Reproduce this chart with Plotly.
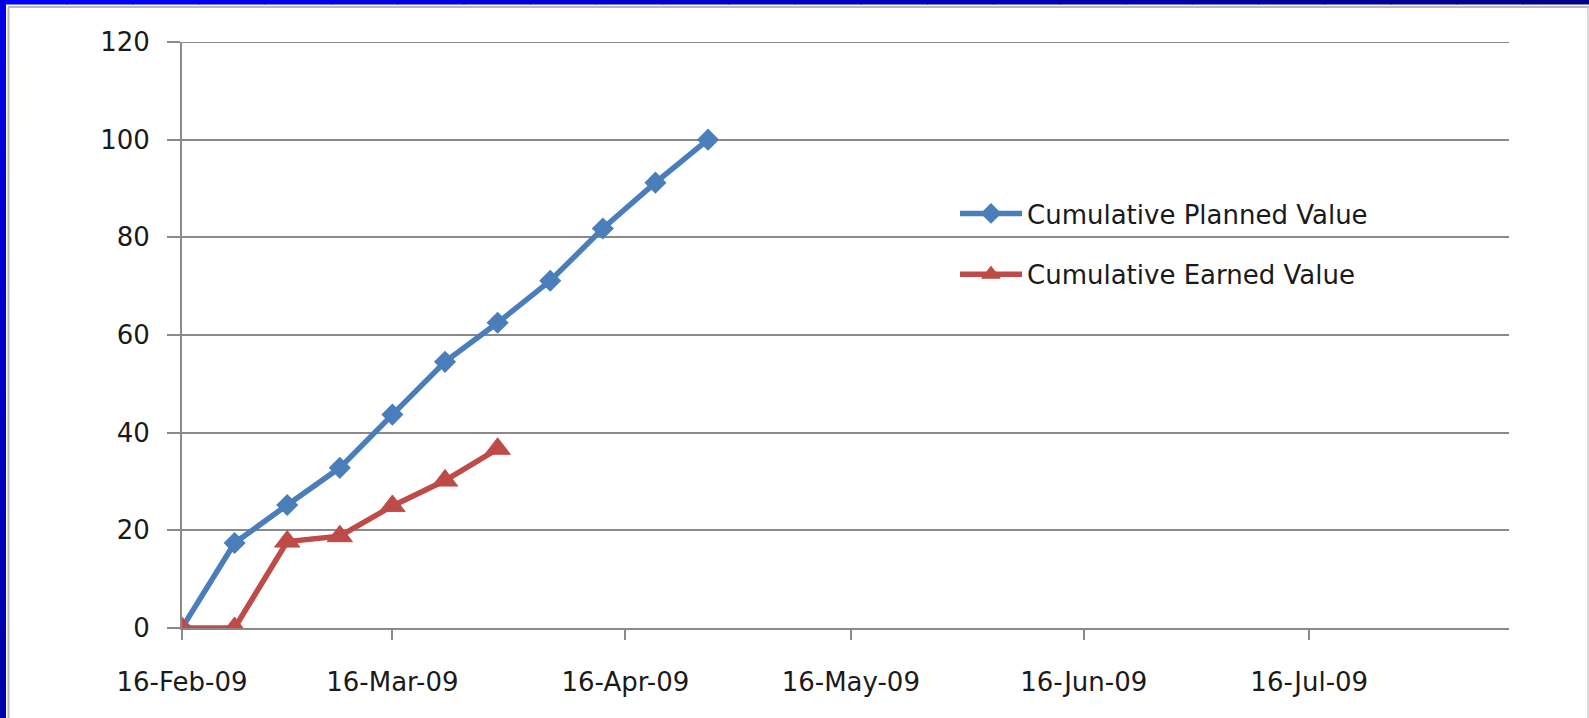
import plotly.graph_objects as go

# ---- data ----
planned_dates = ["2009-02-16", "2009-02-23", "2009-03-02", "2009-03-09", "2009-03-16",
                 "2009-03-23", "2009-03-30", "2009-04-06", "2009-04-13", "2009-04-20",
                 "2009-04-27"]
planned_values = [0, 17.4, 25.2, 32.8, 43.7, 54.5, 62.5, 71.1, 81.8, 91.2, 100]

earned_dates = ["2009-02-16", "2009-02-23", "2009-03-02", "2009-03-09", "2009-03-16",
                "2009-03-23", "2009-03-30"]
earned_values = [0, 0, 17.7, 18.8, 25.0, 30.2, 36.7]

x_tick_vals = ["2009-02-16", "2009-03-16", "2009-04-16", "2009-05-16", "2009-06-16", "2009-07-16"]
y_tick_vals = [0, 20, 40, 60, 80, 100, 120]

# ---- layout geometry (pixels) ----
W, H = 1589, 718
L, R, T, B = 182, 80, 42, 90
PW, PH = W - L - R, H - T - B


def px(x):
    return (x - L) / PW


def py(y):
    return (H - B - y) / PH


FONT = "DejaVu Sans"
GRID = "#8a8a8a"
TXT = "#1a1a1a"
FS = 26

fig = go.Figure()
fig.add_trace(go.Scatter(
    x=planned_dates, y=planned_values, name="Cumulative Planned Value",
    mode="lines+markers", legendgroup="a",
    line=dict(color="#4a7ebb", width=5.5),
    marker=dict(symbol="diamond", size=17, color="#4a7ebb"),
))
fig.add_trace(go.Scatter(
    x=earned_dates, y=earned_values, name="Cumulative Earned Value",
    mode="lines+markers", legendgroup="b",
    line=dict(color="#be4b48", width=5.5),
    marker=dict(symbol="triangle-up", size=22, color="#be4b48",
                line=dict(color="#be4b48", width=1)),
))

shapes = []
# top gridline at 120 (plotly omits the gridline at the range edge)
shapes.append(dict(type="line", xref="paper", yref="y", x0=px(168), x1=1,
                   y0=120, y1=120, line=dict(color=GRID, width=2)))
# decorative window frame: top gradient bar, left bar, thin gray borders
n = 24
c0, c1 = (0, 0, 255), (0, 0, 144)
for i in range(n):
    t = i / (n - 1)
    col = "rgb(%d,%d,%d)" % tuple(round(a + (b - a) * t) for a, b in zip(c0, c1))
    shapes.append(dict(type="rect", xref="paper", yref="paper", layer="above",
                       x0=px(i * W / n), x1=px((i + 1) * W / n + 1),
                       y0=py(0), y1=py(4.5), line=dict(width=0), fillcolor=col))
for i in range(n):
    t = i / (n - 1)
    col = "rgb(%d,%d,%d)" % tuple(round(a + (b - a) * t) for a, b in zip((0, 0, 230), (0, 0, 170)))
    shapes.append(dict(type="rect", xref="paper", yref="paper", layer="above",
                       x0=px(0), x1=px(6),
                       y0=py(i * H / n), y1=py((i + 1) * H / n + 1),
                       line=dict(width=0), fillcolor=col))
shapes.append(dict(type="line", xref="paper", yref="paper", x0=px(8.5), x1=px(8.5),
                   y0=py(7), y1=py(H), line=dict(color="#b8b8b8", width=2)))
shapes.append(dict(type="line", xref="paper", yref="paper", x0=px(8), x1=px(W),
                   y0=py(7), y1=py(7), line=dict(color="#b8b8b8", width=2)))
shapes.append(dict(type="line", xref="paper", yref="paper", x0=px(1588), x1=px(1588),
                   y0=py(7), y1=py(H), line=dict(color="#d0d0d0", width=1.5)))

fig.update_layout(
    width=W, height=H,
    margin=dict(l=L, r=R, t=T, b=B, autoexpand=False),
    paper_bgcolor="white", plot_bgcolor="white",
    font=dict(family=FONT, size=FS, color=TXT),
    showlegend=True,
    legend=dict(x=px(955), y=py(190), xanchor="left", yanchor="top",
                bgcolor="rgba(0,0,0,0)", tracegroupgap=24, itemwidth=62,
                font=dict(family=FONT, size=FS, color=TXT)),
    shapes=shapes,
    xaxis=dict(
        type="date", range=["2009-02-16", "2009-08-11 14:00"],
        tickvals=x_tick_vals, tickformat="%d-%b-%y",
        showgrid=False, zeroline=False,
        showline=True, linecolor=GRID, linewidth=2,
        ticks="outside", ticklen=10, tickwidth=2, tickcolor=GRID,
        ticklabelstandoff=20,
        tickfont=dict(family=FONT, size=FS, color=TXT),
    ),
    yaxis=dict(
        range=[0, 120], tickvals=y_tick_vals,
        showgrid=True, gridcolor=GRID, gridwidth=2,
        zeroline=False,
        showline=True, linecolor=GRID, linewidth=2,
        ticks="outside", ticklen=13, tickwidth=2, tickcolor=GRID,
        ticklabelstandoff=12,
        tickfont=dict(family=FONT, size=FS, color=TXT),
    ),
)

fig.write_html("out.html", config={"displayModeBar": False},
               post_script="document.body.style.margin='0';")
